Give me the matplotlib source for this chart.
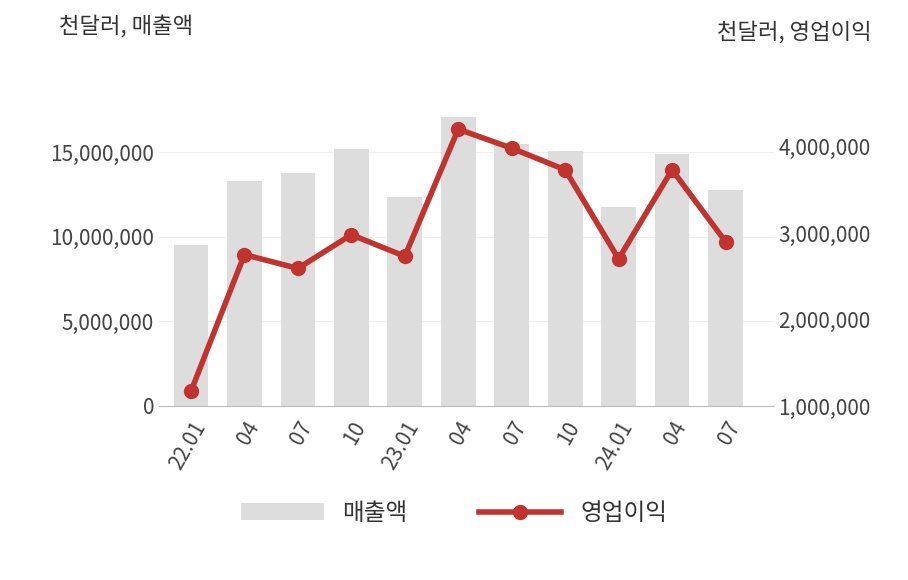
import matplotlib
matplotlib.use("Agg")
import matplotlib.pyplot as plt
from matplotlib.ticker import FuncFormatter

plt.rcParams['font.family'] = ['Noto Sans CJK KR', 'DejaVu Sans']

labels = ['22.01', '04', '07', '10', '23.01', '04', '07', '10', '24.01', '04', '07']
sales = [9.53e6, 13.3e6, 13.76e6, 15.2e6, 12.35e6, 17.06e6, 15.5e6, 15.06e6, 11.76e6, 14.9e6, 12.76e6]
op_income = [1.17e6, 2.75e6, 2.59e6, 2.98e6, 2.73e6, 4.2e6, 3.98e6, 3.73e6, 2.70e6, 3.73e6, 2.9e6]

fig = plt.figure(figsize=(9.08, 5.8), dpi=100)
ax = fig.add_axes([0.175, 0.30, 0.677, 0.54])
ax2 = ax.twinx()
x = range(len(labels))
ax.bar(x, sales, width=0.65, color='#dddddd', label='매출액', zorder=2)
ax2.plot(x, op_income, color='#c0332f', lw=4, marker='o', ms=10, label='영업이익', zorder=3)

ax.set_xlim(-0.6, len(labels) - 0.1)
ax.set_ylim(0, 18.5e6)
ax2.set_ylim(1e6, 4.62e6)
ax.set_yticks([0, 5e6, 10e6, 15e6])
ax2.set_yticks([1e6, 2e6, 3e6, 4e6])
fmt = FuncFormatter(lambda v, p: f'{int(v):,}')
ax.yaxis.set_major_formatter(fmt)
ax2.yaxis.set_major_formatter(fmt)
ax.grid(axis='y', color='#eeeeee', zorder=0)
ax.set_xticks(list(x))
ax.set_xticklabels(labels, rotation=60, ha='right', rotation_mode='anchor')
for a in (ax, ax2):
    for s in ('top', 'left', 'right', 'bottom'):
        a.spines[s].set_visible(False)
    a.tick_params(length=0, labelsize=15, colors='#444444')
ax.spines['bottom'].set_visible(True)
ax.spines['bottom'].set_color('#bbbbbb')
ax.tick_params(axis='x', pad=8)

fig.text(0.065, 0.955, '천달러, 매출액', fontsize=16, color='#333333', va='center')
fig.text(0.96, 0.945, '천달러, 영업이익', fontsize=16, color='#333333', va='center', ha='right')

h1, l1 = ax.get_legend_handles_labels()
h2, l2 = ax2.get_legend_handles_labels()
fig.legend(h1 + h2, l1 + l2, loc='center', bbox_to_anchor=(0.5, 0.115), ncol=2,
           frameon=False, fontsize=17, handlelength=3.5, columnspacing=3, labelcolor='#333333')

fig.savefig('out.png', dpi=100)
